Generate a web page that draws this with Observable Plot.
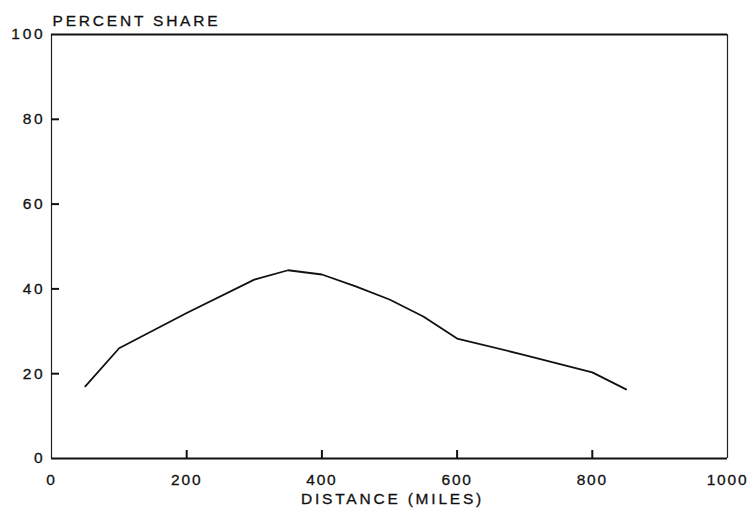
<!DOCTYPE html>
<html>
<head>
<meta charset="utf-8">
<script src="https://cdn.jsdelivr.net/npm/d3@7"></script>
<script src="https://cdn.jsdelivr.net/npm/@observablehq/plot@0.6"></script>
<style>
  html, body { margin: 0; padding: 0; background: #fff; }
  .pchart text { stroke: #111; stroke-width: 0.3px; }
  .pchart g[aria-label="x-axis tick label"] text { letter-spacing: 1.8px; }
</style>
</head>
<body>
<div id="chart"></div>
<script>
// Data
const distance = [50, 100, 200, 300, 350, 400, 450, 500, 550, 600, 700, 800, 850];
const share    = [17, 26, 34.3, 42.2, 44.4, 43.4, 40.6, 37.5, 33.5, 28.3, 24.4, 20.3, 16.3];
const xTicks = [0, 200, 400, 600, 800, 1000];
const yTicks = [0, 20, 40, 60, 80, 100];
const xInnerTicks = [200, 400, 600, 800];
const yInnerTicks = [20, 40, 60, 80];
const titleText = "PERCENT SHARE";
const xLabelText = "DISTANCE (MILES)";

const data = distance.map((d, i) => ({distance: d, share: share[i]}));

const W = 748, H = 512;
const mL = 51, mR = 21, mT = 34, mB = 54;
const xDom = [0, 1000], yDom = [0, 100];
// inward tick length of ~8px, expressed in each scale's units
const tickPx = 8;
const xTickLen = tickPx * (xDom[1] - xDom[0]) / (W - mL - mR);
const yTickLen = tickPx * (yDom[1] - yDom[0]) / (H - mT - mB);

const chart = Plot.plot({
  className: "pchart",
  width: W,
  height: H,
  marginLeft: mL,
  marginRight: mR,
  marginTop: mT,
  marginBottom: mB,
  style: "font-family: 'Liberation Sans', Arial, sans-serif; font-size: 15.5px; letter-spacing: 2.8px; color: #111; background: #fff;",
  x: {domain: xDom},
  y: {domain: yDom},
  marks: [
    // frame
    Plot.ruleX(xDom, {stroke: "#222", strokeWidth: 1.2}),
    Plot.ruleY(yDom, {stroke: "#111", strokeWidth: 1.8}),
    // inward ticks
    Plot.ruleY(yInnerTicks, {y: d => d, x1: xDom[0], x2: xDom[0] + xTickLen, stroke: "#111", strokeWidth: 2}),
    Plot.ruleX(xInnerTicks, {x: d => d, y1: yDom[0], y2: yDom[0] + yTickLen, stroke: "#111", strokeWidth: 2}),
    // axes labels
    Plot.axisY(yTicks, {tickSize: 0, tickPadding: 6, tickFormat: d => String(d), fill: "#111", label: null}),
    Plot.axisX(xTicks, {tickSize: 0, tickPadding: 15, tickFormat: d => String(d), fill: "#111", label: null}),
    // line
    Plot.line(data, {x: "distance", y: "share", stroke: "#111", strokeWidth: 1.8, strokeLinejoin: "round"}),
    // titles
    Plot.text([titleText], {frameAnchor: "top-left", text: d => d, textAnchor: "start", lineAnchor: "bottom", dx: 1, dy: -9, fill: "#111"}),
    Plot.text([xLabelText], {frameAnchor: "bottom", text: d => d, textAnchor: "middle", lineAnchor: "bottom", dx: 3, dy: 45, fill: "#111"})
  ]
});
document.getElementById("chart").appendChild(chart);
</script>
</body>
</html>
